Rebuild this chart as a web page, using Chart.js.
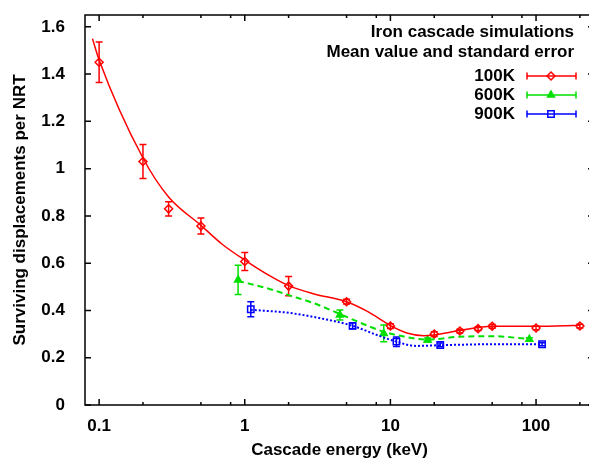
<!DOCTYPE html>
<html>
<head>
<meta charset="utf-8">
<script src="https://cdn.jsdelivr.net/npm/chart.js@4/dist/chart.umd.min.js"></script>
<style>
  html, body { margin: 0; padding: 0; background: #fff; overflow: hidden; }
  canvas { display: block; }
</style>
</head>
<body>
<canvas id="cascadeChart" width="600" height="459"></canvas>
<script>
// Simulation points (energy in keV, mean, standard error)
const energy100K = [0.1, 0.2, 0.3, 0.5, 1, 2, 5, 10, 20, 30, 40, 50, 100, 200];
const mean100K = [1.45, 1.03, 0.83, 0.757, 0.607, 0.503, 0.437, 0.334, 0.300, 0.313, 0.323, 0.333, 0.326, 0.334];
const err100K = [0.086, 0.072, 0.03, 0.034, 0.038, 0.041, 0.01, 0.01, 0.01, 0.008, 0.008, 0.008, 0.008, 0.008];

const energy600K = [0.9, 4.5, 9, 18, 90];
const mean600K = [0.529, 0.381, 0.303, 0.275, 0.278];
const err600K = [0.062, 0.021, 0.035, 0.008, 0.006];

const energy900K = [1.1, 5.5, 11, 22, 110];
const mean900K = [0.405, 0.335, 0.268, 0.254, 0.257];
const err900K = [0.032, 0.012, 0.02, 0.008, 0.006];

// Fitted curves
const fitX100K = [0.09, 0.1, 0.2, 0.3, 0.5, 0.7, 1, 1.5, 2, 3, 5, 7, 10, 13, 17, 20, 30, 50, 100, 200];
const fitY100K = [1.55, 1.46, 1.045, 0.88, 0.76, 0.68, 0.613, 0.545, 0.505, 0.47, 0.437, 0.395, 0.336, 0.305, 0.293, 0.296, 0.315, 0.333, 0.333, 0.337];

const fitX600K = [0.9, 1.5, 2, 3, 4.5, 7, 9, 13, 18, 30, 50, 90];
const fitY600K = [0.525, 0.49, 0.465, 0.43, 0.385, 0.335, 0.31, 0.287, 0.277, 0.289, 0.291, 0.279];

const fitX900K = [1.1, 2, 3, 5.5, 8, 11, 15, 22, 50, 110];
const fitY900K = [0.403, 0.39, 0.372, 0.335, 0.297, 0.268, 0.25, 0.253, 0.257, 0.257];

const xTicks = [0.1, 1, 10, 100];
const xMinorTicks = [0.2, 0.5, 0.8, 2, 5, 8, 20, 50, 80, 200];
const yTicks = [0, 0.2, 0.4, 0.6, 0.8, 1, 1.2, 1.4, 1.6];

const RED = '#ff0000';
const GREEN = '#00e000';
const BLUE = '#0000ff';
const FONT = 'bold 17px "Liberation Sans", Arial, sans-serif';

const pts = (xs, ys) => xs.map((x, i) => ({ x: x, y: ys[i] }));

const series = [
    { label: '100K', x: energy100K, y: mean100K, err: err100K, color: RED, style: 'rectRot', radius: 4, fill: false },
    { label: '600K', x: energy600K, y: mean600K, err: err600K, color: GREEN, style: 'triangle', radius: 4, fill: true },
    { label: '900K', x: energy900K, y: mean900K, err: err900K, color: BLUE, style: 'rect', radius: 4.5, fill: false }
];

// Error bars, frame, inward ticks, titles and key
const decorations = {
    id: 'decorations',
    beforeDatasetsDraw(chart) {
        const ctx = chart.ctx;
        const xs = chart.scales.x, ys = chart.scales.y;
        ctx.save();
        ctx.lineWidth = 1.5;
        series.forEach(s => {
            ctx.strokeStyle = s.color;
            s.x.forEach((xv, i) => {
                const px = xs.getPixelForValue(xv);
                const top = ys.getPixelForValue(s.y[i] + s.err[i]);
                const bot = ys.getPixelForValue(s.y[i] - s.err[i]);
                ctx.beginPath();
                ctx.moveTo(px, top); ctx.lineTo(px, bot);
                ctx.moveTo(px - 3.5, top); ctx.lineTo(px + 3.5, top);
                ctx.moveTo(px - 3.5, bot); ctx.lineTo(px + 3.5, bot);
                ctx.stroke();
            });
        });
        ctx.restore();
    },
    afterDraw(chart) {
        const ctx = chart.ctx;
        const a = chart.chartArea;
        const xs = chart.scales.x, ys = chart.scales.y;
        ctx.save();
        ctx.strokeStyle = '#000';
        ctx.lineWidth = 1.5;
        ctx.strokeRect(a.left, a.top, a.right - a.left, a.bottom - a.top);

        ctx.beginPath();
        xTicks.forEach(v => {
            const px = xs.getPixelForValue(v);
            ctx.moveTo(px, a.bottom); ctx.lineTo(px, a.bottom - 6);
            ctx.moveTo(px, a.top); ctx.lineTo(px, a.top + 6);
        });
        xMinorTicks.forEach(v => {
            const px = xs.getPixelForValue(v);
            ctx.moveTo(px, a.bottom); ctx.lineTo(px, a.bottom - 3);
            ctx.moveTo(px, a.top); ctx.lineTo(px, a.top + 3);
        });
        yTicks.forEach(v => {
            const py = ys.getPixelForValue(v);
            ctx.moveTo(a.left, py); ctx.lineTo(a.left + 6, py);
            ctx.moveTo(a.right, py); ctx.lineTo(a.right - 6, py);
        });
        ctx.stroke();

        // axis titles
        ctx.fillStyle = '#000';
        ctx.font = FONT;
        ctx.textAlign = 'center';
        ctx.textBaseline = 'middle';
        ctx.fillText('Cascade energy (keV)', (a.left + a.right) / 2, 450);
        ctx.save();
        ctx.translate(20, (a.top + a.bottom) / 2);
        ctx.rotate(-Math.PI / 2);
        ctx.fillText('Surviving displacements per NRT', 0, 0);
        ctx.restore();

        // key
        ctx.textAlign = 'right';
        ctx.fillText('Iron cascade simulations', 574, 32);
        ctx.fillText('Mean value and standard error', 574, 52);
        series.forEach((s, i) => {
            const ky = 76 + i * 19;
            ctx.fillStyle = '#000';
            ctx.fillText(s.label, 515, ky);
            ctx.strokeStyle = s.color;
            ctx.fillStyle = s.fill ? s.color : 'rgba(0,0,0,0)';
            ctx.lineWidth = 1.5;
            ctx.beginPath();
            ctx.moveTo(527, ky); ctx.lineTo(576, ky);
            ctx.moveTo(527, ky - 3.5); ctx.lineTo(527, ky + 3.5);
            ctx.moveTo(576, ky - 3.5); ctx.lineTo(576, ky + 3.5);
            ctx.stroke();
            Chart.helpers.drawPoint(ctx, { pointStyle: s.style, radius: s.radius, borderWidth: 1.5, rotation: 0 }, 551, ky);
        });
        ctx.restore();
    }
};

const datasets = [
    { data: pts(fitX100K, fitY100K), showLine: true, borderColor: RED, borderWidth: 1.5, pointRadius: 0, cubicInterpolationMode: 'monotone' },
    { data: pts(fitX600K, fitY600K), showLine: true, borderColor: GREEN, borderWidth: 2, borderDash: [6, 4], pointRadius: 0, cubicInterpolationMode: 'monotone' },
    { data: pts(fitX900K, fitY900K), showLine: true, borderColor: BLUE, borderWidth: 2, borderDash: [2, 2], pointRadius: 0, cubicInterpolationMode: 'monotone' }
];
series.forEach(s => {
    datasets.push({
        data: pts(s.x, s.y),
        showLine: false,
        pointStyle: s.style,
        pointRadius: s.radius,
        pointBorderWidth: 1.5,
        pointBorderColor: s.color,
        pointBackgroundColor: s.fill ? s.color : 'rgba(255,255,255,0)'
    });
});

const ctx = document.getElementById('cascadeChart');
new Chart(ctx, {
    type: 'scatter',
    data: { datasets: datasets },
    options: {
        responsive: false,
        animation: false,
        layout: { padding: { top: 15, right: 4, left: 0, bottom: 0 } },
        plugins: { legend: { display: false }, tooltip: { enabled: false } },
        scales: {
            x: {
                type: 'logarithmic',
                min: 0.08,
                max: 250,
                grid: { display: false },
                border: { display: false },
                afterBuildTicks: scale => { scale.ticks = xTicks.map(v => ({ value: v })); },
                afterFit: scale => { scale.height = 54; scale.paddingLeft = 0; scale.paddingRight = 0; },
                ticks: {
                    color: '#000',
                    font: { family: '"Liberation Sans", Arial, sans-serif', size: 17, weight: 'bold' },
                    padding: 3,
                    maxRotation: 0,
                    callback: v => String(v)
                }
            },
            y: {
                min: 0,
                max: 1.65,
                grid: { display: false },
                border: { display: false },
                afterBuildTicks: scale => { scale.ticks = yTicks.map(v => ({ value: v })); },
                afterFit: scale => { scale.width = 85; scale.paddingTop = 0; scale.paddingBottom = 0; },
                ticks: {
                    color: '#000',
                    font: { family: '"Liberation Sans", Arial, sans-serif', size: 17, weight: 'bold' },
                    padding: 12,
                    callback: v => String(v)
                }
            }
        }
    },
    plugins: [decorations]
});
</script>
</body>
</html>
